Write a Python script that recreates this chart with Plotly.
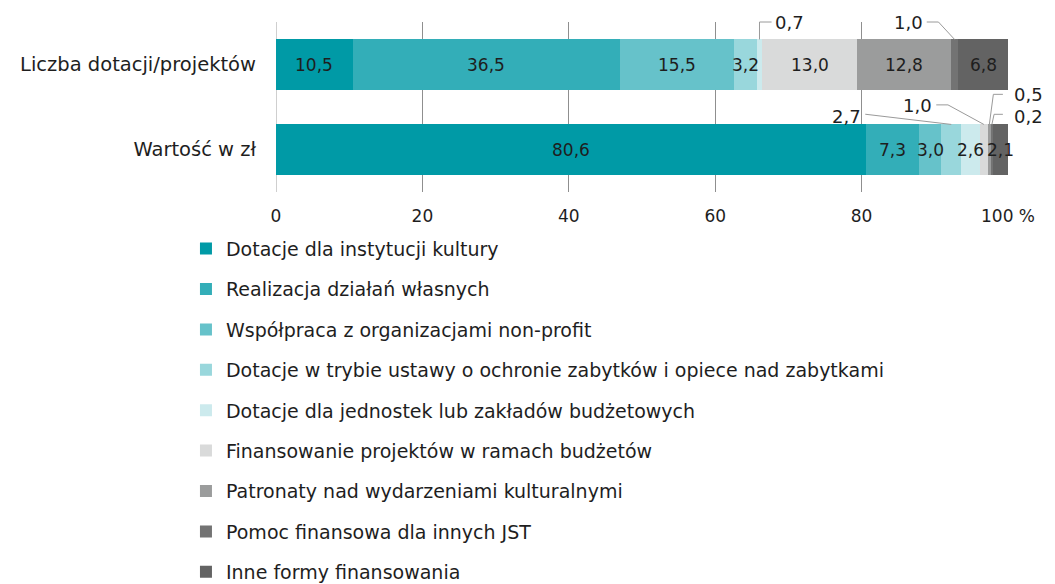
import plotly.graph_objects as go

# ---------------- data ----------------
categories = ["Liczba dotacji/projektów", "Wartość w zł"]
series_names = [
    "Dotacje dla instytucji kultury",
    "Realizacja działań własnych",
    "Współpraca z organizacjami non-profit",
    "Dotacje w trybie ustawy o ochronie zabytków i opiece nad zabytkami",
    "Dotacje dla jednostek lub zakładów budżetowych",
    "Finansowanie projektów w ramach budżetów",
    "Patronaty nad wydarzeniami kulturalnymi",
    "Pomoc finansowa dla innych JST",
    "Inne formy finansowania",
]
liczba_values = [10.5, 36.5, 15.5, 3.2, 0.7, 13.0, 12.8, 1.0, 6.8]
wartosc_values = [80.6, 7.3, 3.0, 2.7, 2.6, 1.0, 0.5, 0.2, 2.1]
x_tick_values = [0, 20, 40, 60, 80, 100]
x_tick_labels = ["0", "20", "40", "60", "80", "100 %"]

# ---------------- styles ----------------
colors = ["#009aa6", "#33aeb8", "#66c2ca", "#99d7dc", "#cceaed",
          "#d9dada", "#9b9c9c", "#737373", "#636363"]
FONT = "DejaVu Sans"
TXT = "#1e1e1e"
LINE = "#9a9a9a"
BAR_W = 0.59
Y_POS = [1, 0]            # numeric positions of the two categories
Y_RANGE = [-0.5, 1.5]
X_RANGE = [0, 100]
LBL_SIZE = 17

# which labels are drawn as callouts instead of inside the bar
callout_liczba = [False, False, False, False, True, False, False, True, False]
callout_wartosc = [False, False, False, True, False, True, True, True, False]

fig = go.Figure()
for i, name in enumerate(series_names):
    fig.add_trace(go.Bar(
        y=Y_POS, x=[liczba_values[i], wartosc_values[i]],
        orientation="h", name=name, width=BAR_W,
        marker=dict(color=colors[i], line=dict(width=0)),
        legendgroup=f"g{i}", hoverinfo="skip",
    ))

def fmt(v):
    return f"{v:.1f}".replace(".", ",")

def cum_mid(values, i):
    return sum(values[:i]) + values[i] / 2.0

def xp(x):
    return (x - X_RANGE[0]) / (X_RANGE[1] - X_RANGE[0])

def yp_(y):
    return (y - Y_RANGE[0]) / (Y_RANGE[1] - Y_RANGE[0])

annotations = []
# inside labels
for values, ycat, mask in ((liczba_values, 1, callout_liczba), (wartosc_values, 0, callout_wartosc)):
    for i, v in enumerate(values):
        if not mask[i]:
            annotations.append(dict(
                x=cum_mid(values, i), y=ycat, xref="x", yref="y", text=fmt(v),
                showarrow=False, font=dict(family=FONT, size=LBL_SIZE, color=TXT),
                xanchor="center", yanchor="middle"))

# callouts: (values, category y, index, text x, text y, anchor, elbow points)
callouts = [
    (liczba_values, 1, 4, 67.9, 1.50, "left", [(None, 1.50), (67.7, 1.50)]),
    (liczba_values, 1, 7, 88.7, 1.50, "right", [(90.5, 1.50), (88.9, 1.50)]),
    (wartosc_values, 0, 3, 80.2, 0.39, "right", [(80.5, 0.415)]),
    (wartosc_values, 0, 5, 89.9, 0.515, "right", [(91.8, 0.525), (90.2, 0.525)]),
    (wartosc_values, 0, 6, 100.5, 0.645, "left", [(98.0, 0.649), (99.3, 0.649)]),
    (wartosc_values, 0, 7, 100.5, 0.39, "left", [(98.1, 0.414), (99.3, 0.414)]),
]
shapes = []
for values, ycat, idx, tx, ty, anchor, pts in callouts:
    x0 = cum_mid(values, idx)
    y0 = ycat + BAR_W / 2
    coords = [(x0, y0)]
    for (px, py) in pts:
        coords.append((x0 if px is None else px, py))
    path = "M " + " L ".join(f"{xp(a):.5f},{yp_(b):.5f}" for a, b in coords)
    shapes.append(dict(type="path", path=path, xref="paper", yref="paper",
                       line=dict(color=LINE, width=1)))
    annotations.append(dict(
        x=xp(tx), y=yp_(ty), xref="paper", yref="paper", text=fmt(values[idx]),
        showarrow=False, font=dict(family=FONT, size=18, color=TXT),
        xanchor=anchor, yanchor="middle"))

fig.update_layout(
    width=1047, height=576,
    barmode="stack", bargap=0,
    paper_bgcolor="white", plot_bgcolor="white",
    margin=dict(l=268, r=47, t=14, b=392, autoexpand=False),
    font=dict(family=FONT, size=19, color=TXT),
    showlegend=True,
    legend=dict(
        orientation="v", x=-0.1230, xanchor="left", y=-0.222, yanchor="top",
        traceorder="grouped", tracegroupgap=12.7, maxheight=420,
        font=dict(family=FONT, size=19, color=TXT),
        itemclick=False, itemdoubleclick=False,
    ),
    xaxis=dict(
        range=X_RANGE, tickvals=x_tick_values, ticktext=x_tick_labels,
        showgrid=True, gridcolor="#8f8f8f", gridwidth=1,
        zeroline=True, zerolinecolor="#cfcfcf", zerolinewidth=1,
        showline=False, ticks="", ticklabelstandoff=12, automargin=False,
        tickfont=dict(family=FONT, size=17, color=TXT), fixedrange=True,
    ),
    yaxis=dict(
        range=Y_RANGE, tickvals=Y_POS, ticktext=categories,
        showgrid=False, zeroline=False, showline=False, ticks="",
        ticklabelstandoff=19, automargin=False,
        tickfont=dict(family=FONT, size=19.5, color=TXT), fixedrange=True,
    ),
    annotations=annotations,
    shapes=shapes,
)

fig.write_html("out.html")
